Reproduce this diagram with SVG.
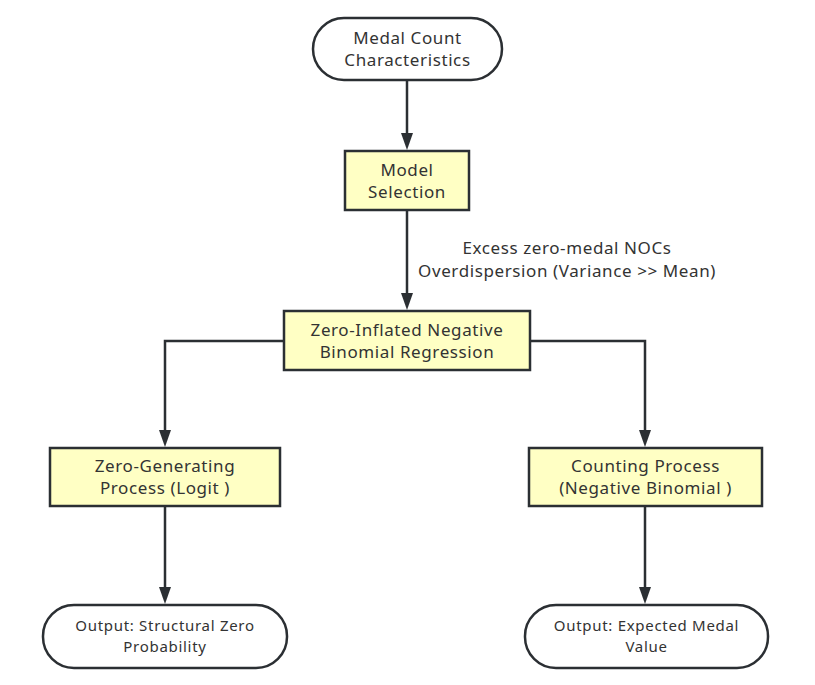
<svg xmlns="http://www.w3.org/2000/svg" width="815" height="685" viewBox="0 0 815 685">
<style>
.term{fill:#ffffff;stroke:#2b2f33;stroke-width:2.5}
.proc{fill:#ffffc4;stroke:#2b2f33;stroke-width:2.5}
.t{font-family:"Noto Sans","Open Sans",sans-serif;font-size:17px;letter-spacing:0.6px;fill:#333333;text-anchor:middle}
.s{font-family:"Noto Sans","Open Sans",sans-serif;font-size:15px;letter-spacing:0.7px;fill:#333333;text-anchor:middle}
.c{fill:none;stroke:#2b2f33;stroke-width:2.5}
.a{fill:#2b2f33}
</style>
<rect width="815" height="685" fill="#ffffff"/>
<g id="connectors">
<line class="c" x1="407" y1="80" x2="407" y2="140"/>
<path class="a" d="M401,133 L413,133 L407,150 Z"/>
<line class="c" x1="407" y1="210" x2="407" y2="300"/>
<path class="a" d="M401,293 L413,293 L407,310 Z"/>
<polyline class="c" points="284,341 165,341 165,437"/>
<path class="a" d="M159,430 L171,430 L165,447 Z"/>
<polyline class="c" points="530,341 645,341 645,437"/>
<path class="a" d="M639,430 L651,430 L645,447 Z"/>
<line class="c" x1="165" y1="506" x2="165" y2="594"/>
<path class="a" d="M159,587 L171,587 L165,604 Z"/>
<line class="c" x1="645" y1="506" x2="645" y2="594"/>
<path class="a" d="M639,587 L651,587 L645,604 Z"/>
<text class="t" x="567" y="254">Excess zero-medal NOCs</text>
<text class="t" x="567" y="277">Overdispersion (Variance &gt;&gt; Mean)</text>
</g>
<g id="n1">
<rect class="term" x="313" y="18" width="189" height="62" rx="31"/>
<text class="t" x="407.5" y="44">Medal Count</text>
<text class="t" x="407.5" y="66">Characteristics</text>
</g>
<g id="n2">
<rect class="proc" x="345" y="151" width="124" height="59"/>
<text class="t" x="407" y="176">Model</text>
<text class="t" x="407" y="198">Selection</text>
</g>
<g id="n3">
<rect class="proc" x="284" y="311" width="246" height="59"/>
<text class="t" x="407" y="336">Zero-Inflated Negative</text>
<text class="t" x="407" y="358">Binomial Regression</text>
</g>
<g id="n4">
<rect class="proc" x="50" y="448" width="230" height="58"/>
<text class="t" x="165" y="472">Zero-Generating</text>
<text class="t" x="165" y="494">Process (Logit )</text>
</g>
<g id="n5">
<rect class="proc" x="529" y="448" width="233" height="58"/>
<text class="t" x="645.5" y="472">Counting Process</text>
<text class="t" x="645.5" y="494">(Negative Binomial )</text>
</g>
<g id="n6">
<rect class="term" x="43" y="605" width="244" height="63" rx="31"/>
<text class="s" x="165" y="631">Output: Structural Zero</text>
<text class="s" x="165" y="652">Probability</text>
</g>
<g id="n7">
<rect class="term" x="525" y="605" width="243" height="63" rx="31"/>
<text class="s" x="646.5" y="631">Output: Expected Medal</text>
<text class="s" x="646.5" y="652">Value</text>
</g>
</svg>
